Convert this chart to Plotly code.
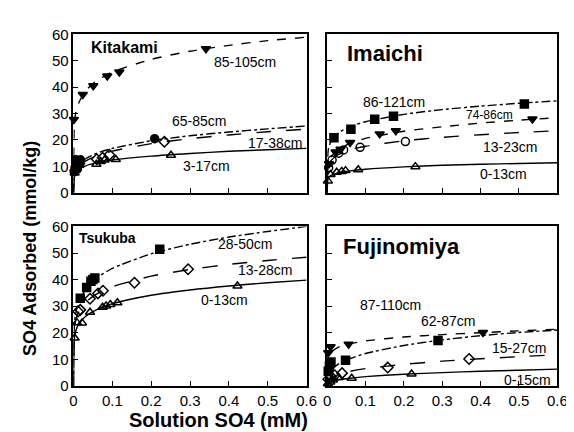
import plotly.graph_objects as go

# ---------------- data ----------------
curve_x = [0, 0.003, 0.01, 0.03, 0.06, 0.1, 0.2, 0.3, 0.4, 0.5, 0.6]

# Kitakami
kit_labels = ["85-105cm", "65-85cm", "17-38cm", "3-17cm"]
kit_curves = [
    [0, 27.6, 32.8, 38.4, 42.5, 45.7, 50.5, 53.6, 55.8, 57.6, 58.9],
    [0, 7.5, 9.9, 12.8, 15.0, 16.8, 19.7, 21.6, 23.0, 24.2, 25.3],
    [0, 6.9, 9.2, 11.9, 14.0, 15.8, 18.6, 20.5, 21.9, 23.1, 24.1],
    [0, 6.9, 8.4, 10.1, 11.4, 12.4, 13.9, 14.9, 15.7, 16.3, 16.8],
]
kit_px = [
    [0.001, 0.024, 0.051, 0.087, 0.118, 0.341],
    [0.002, 0.004, 0.006, 0.008, 0.010, 0.012, 0.015, 0.018, 0.209],
    [0.005, 0.010, 0.015, 0.060, 0.075, 0.0925, 0.234],
    [0.003, 0.006, 0.015, 0.059, 0.070, 0.080, 0.109, 0.251],
]
kit_py = [
    [27.7, 37.2, 40.5, 44.2, 45.7, 54.5],
    [8.0, 9.5, 12.5, 11.0, 9.0, 12.0, 11.5, 12.5, 20.5],
    [8.5, 10.0, 11.0, 12.7, 13.3, 14.4, 19.3],
    [7.5, 9.0, 10.5, 10.8, 11.8, 12.4, 12.6, 14.2],
]

# Imaichi
ima_labels = ["86-121cm", "74-86cm", "13-23cm", "0-13cm"]
ima_curves = [
    [0, 16.3, 19.4, 22.7, 25.0, 26.9, 29.7, 31.5, 32.8, 33.9, 34.8],
    [0, 10.9, 13.6, 16.5, 18.7, 20.6, 23.3, 25.0, 26.4, 27.5, 28.4],
    [0, 10.1, 12.2, 14.5, 16.3, 17.6, 19.7, 21.0, 22.0, 22.8, 23.5],
    [0, 5.6, 6.5, 7.6, 8.3, 8.9, 9.8, 10.4, 10.8, 11.1, 11.4],
]
ima_px = [
    [0.0178, 0.062, 0.124, 0.173, 0.514],
    [0.005, 0.022, 0.035, 0.060, 0.137, 0.179, 0.535],
    [0.004, 0.013, 0.030, 0.043, 0.086, 0.204],
    [0.002, 0.009, 0.025, 0.038, 0.048, 0.081, 0.230],
]
ima_py = [
    [20.8, 24.1, 27.8, 29.0, 33.6],
    [11.0, 15.4, 16.5, 19.0, 22.3, 23.5, 27.9],
    [9.5, 12.4, 15.0, 16.2, 17.2, 19.4],
    [4.5, 6.9, 7.8, 8.1, 8.4, 8.7, 9.9],
]

# Tsukuba
tsu_labels = ["28-50cm", "13-28cm", "0-13cm"]
tsu_curves = [
    [0, 24.4, 29.9, 36.0, 40.6, 44.2, 49.7, 53.3, 56.0, 58.1, 60.0],
    [0, 22.4, 26.7, 31.3, 34.6, 37.3, 41.3, 43.8, 45.7, 47.2, 48.4],
    [0, 18.7, 22.3, 26.0, 28.7, 30.9, 34.1, 36.1, 37.6, 38.8, 39.8],
]
tsu_px = [
    [0.0175, 0.034, 0.045, 0.050, 0.055, 0.222],
    [0.012, 0.0175, 0.0425, 0.063, 0.076, 0.157, 0.295],
    [0.003, 0.009, 0.022, 0.0425, 0.075, 0.084, 0.095, 0.113, 0.422],
]
tsu_py = [
    [33.0, 37.0, 39.4, 40.0, 40.6, 51.4],
    [28.0, 28.6, 32.8, 34.8, 35.8, 38.8, 43.9],
    [18.0, 23.8, 23.7, 27.7, 29.6, 30.1, 30.6, 31.3, 37.6],
]

# Fujinomiya
fuj_labels = ["87-110cm", "62-87cm", "15-27cm", "0-15cm"]
fuj_curves = [
    [0, 11.0, 12.7, 14.6, 15.8, 16.9, 18.4, 19.3, 20.0, 20.7, 21.3],
    [0, 4.0, 5.8, 8.3, 10.3, 12.2, 15.2, 17.3, 18.9, 20.1, 21.0],
    [0, 2.0, 3.0, 4.3, 5.5, 6.5, 8.1, 9.3, 10.2, 11.0, 11.7],
    [0, 1.1, 1.6, 2.3, 2.9, 3.5, 4.4, 5.0, 5.5, 5.9, 6.3],
]
fuj_px = [
    [0.003, 0.009, 0.056, 0.406],
    [0.003, 0.006, 0.010, 0.048, 0.289],
    [0.003, 0.010, 0.020, 0.039, 0.158, 0.370],
    [0.002, 0.008, 0.015, 0.030, 0.064, 0.220],
]
fuj_py = [
    [12.5, 14.7, 15.7, 20.1],
    [5.5, 7.5, 9.0, 9.6, 17.1],
    [2.5, 3.5, 4.0, 4.8, 6.9, 10.1],
    [0.8, 1.5, 2.2, 3.2, 2.9, 4.5],
]

x_ticks = [0, 0.1, 0.2, 0.3, 0.4, 0.5, 0.6]
x_ticktext = ["0", "0.1", "0.2", "0.3", "0.4", "0.5", "0.6"]
y_ticks = [0, 10, 20, 30, 40, 50, 60]

# ---------------- styles ----------------
BLACK = "black"
kit_style = [("dash", "triangle-down"), ("dashdot", "circle"), ("longdash", "diamond-open"), ("solid", "triangle-up-open")]
ima_style = [("dashdot", "square"), ("dash", "triangle-down"), ("longdash", "circle-open"), ("solid", "triangle-up-open")]
tsu_style = [("dashdot", "square"), ("longdash", "diamond-open"), ("solid", "triangle-up-open")]
fuj_style = [("dash", "triangle-down"), ("dashdot", "square"), ("longdash", "diamond-open"), ("solid", "triangle-up-open")]

fig = go.Figure()


def add_panel(n, curves, pxs, pys, styles):
    xa = "x" if n == 1 else f"x{n}"
    ya = "y" if n == 1 else f"y{n}"
    for cy, px, py, (dash, sym) in zip(curves, pxs, pys, styles):
        fig.add_trace(go.Scatter(x=curve_x, y=cy, mode="lines", xaxis=xa, yaxis=ya,
                                 line=dict(color=BLACK, width=1.4, dash=dash, shape="spline", smoothing=0.6),
                                 showlegend=False, hoverinfo="skip"))
        fig.add_trace(go.Scatter(x=px, y=py, mode="markers", xaxis=xa, yaxis=ya, cliponaxis=False,
                                 marker=dict(symbol=sym, size=8, color=BLACK,
                                             line=dict(color=BLACK, width=1.5)),
                                 showlegend=False))


add_panel(1, kit_curves, kit_px, kit_py, kit_style)
add_panel(2, ima_curves, ima_px, ima_py, ima_style)
add_panel(3, tsu_curves, tsu_px, tsu_py, tsu_style)
add_panel(4, fuj_curves, fuj_px, fuj_py, fuj_style)

W, H = 574, 432
xl = [63 / W, 302 / W]
xr = [323 / W, 559 / W]
yt = [1 - 183 / H, 1 - 18 / H]
yb = [1 - 384 / H, 1 - 218 / H]

FONT = "Arial, Liberation Sans, Helvetica, sans-serif"


def xaxis(domain, anchor, labels):
    return dict(domain=domain, anchor=anchor, range=[0, 0.6], tickvals=x_ticks, ticktext=x_ticktext,
                showticklabels=labels, ticks="inside", ticklen=5, tickwidth=1, tickcolor=BLACK,
                showline=True, linecolor=BLACK, linewidth=1.5, mirror=True, showgrid=False, zeroline=False,
                tickfont=dict(family=FONT, size=15, color=BLACK))


def yaxis(domain, anchor, labels):
    return dict(domain=domain, anchor=anchor, range=[0, 60], tickvals=y_ticks,
                showticklabels=labels, ticks="inside", ticklen=5, tickwidth=1, tickcolor=BLACK,
                showline=True, linecolor=BLACK, linewidth=1.5, mirror=True, showgrid=False, zeroline=False,
                tickfont=dict(family=FONT, size=15, color=BLACK))


fig.update_layout(
    width=W, height=H, margin=dict(l=0, r=0, t=0, b=0),
    paper_bgcolor="white", plot_bgcolor="white",
    font=dict(family=FONT, color=BLACK),
    xaxis=xaxis(xl, "y", False), yaxis=yaxis(yt, "x", True),
    xaxis2=xaxis(xr, "y2", False), yaxis2=yaxis(yt, "x2", False),
    xaxis3=xaxis(xl, "y3", True), yaxis3=yaxis(yb, "x3", True),
    xaxis4=xaxis(xr, "y4", True), yaxis4=yaxis(yb, "x4", False),
)

ann = []


def label(n, text, x, y, size=14, bold=False):
    xa = "x" if n == 1 else f"x{n}"
    ya = "y" if n == 1 else f"y{n}"
    t = f"<b>{text}</b>" if bold else text
    ann.append(dict(x=x, y=y, xref=xa, yref=ya, text=t, showarrow=False,
                    font=dict(family=FONT, size=size, color=BLACK), xanchor="center", yanchor="middle"))


label(1, "Kitakami", 0.1325, 54.9, 16, True)
label(1, kit_labels[0], 0.4425, 49.5)
label(1, kit_labels[1], 0.322, 27.3)
label(1, kit_labels[2], 0.5175, 19.0)
label(1, kit_labels[3], 0.3425, 10.2)

label(2, "Imaichi", 0.151, 52.7, 22, True)
label(2, ima_labels[0], 0.175, 34.4)
label(2, ima_labels[1], 0.423, 29.3, 12)
label(2, ima_labels[2], 0.476, 17.5)
label(2, ima_labels[3], 0.459, 7.2)

label(3, "Tsukuba", 0.088, 55.7, 14, True)
label(3, tsu_labels[0], 0.4425, 53.2)
label(3, tsu_labels[1], 0.4925, 43.6)
label(3, tsu_labels[2], 0.388, 32.2)

label(4, "Fujinomiya", 0.194, 52.4, 22, True)
label(4, fuj_labels[0], 0.166, 30.4)
label(4, fuj_labels[1], 0.315, 24.3)
label(4, fuj_labels[2], 0.501, 14.3)
label(4, fuj_labels[3], 0.522, 2.1)

ann.append(dict(x=18 / W, y=1 - 241 / H, xref="paper", yref="paper", text="<b>SO4 Adsorbed (mmol/kg)</b>",
                textangle=-90, showarrow=False, font=dict(family=FONT, size=18, color=BLACK),
                xanchor="center", yanchor="middle"))
ann.append(dict(x=212 / W, y=1 - 420 / H, xref="paper", yref="paper", text="<b>Solution SO4 (mM)</b>",
                showarrow=False, font=dict(family=FONT, size=20, color=BLACK),
                xanchor="center", yanchor="middle"))

fig.update_layout(annotations=ann)
fig.write_html("out.html")
